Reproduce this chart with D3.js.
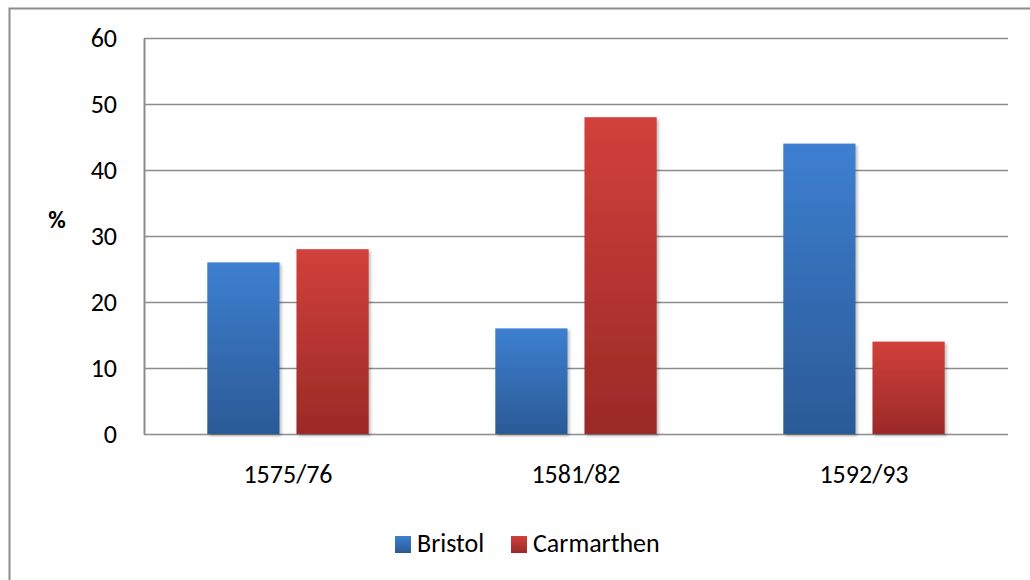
<!DOCTYPE html>
<html>
<head>
<meta charset="utf-8">
<script src="https://cdn.jsdelivr.net/npm/d3@7"></script>
<style>
  body { margin: 0; background: #fff; }
  svg text { font-family: Carlito, "Open Sans", sans-serif; fill: #000; }
</style>
</head>
<body>
<div id="chart"></div>
<script>
// data
const periods = ['1575/76', '1581/82', '1592/93'];
const seriesNames = ['Bristol', 'Carmarthen'];
const bristol = [26, 16, 44];
const carmarthen = [28, 48, 14];
const yTicks = [0, 10, 20, 30, 40, 50, 60];

const width = 1030;
const height = 580;
const margin = { top: 38, right: 22, bottom: 146, left: 144 };

const svg = d3.select('#chart')
  .append('svg')
  .attr('width', width)
  .attr('height', height);

// gradients for the bars
const defs = svg.append('defs');
const grads = [
  { id: 'gBlue', top: '#3d7fd0', bottom: '#2b5a96' },
  { id: 'gRed', top: '#d2403b', bottom: '#9a2a27' }
];
grads.forEach(g => {
  const lg = defs.append('linearGradient')
    .attr('id', g.id)
    .attr('x1', 0).attr('y1', 0).attr('x2', 0).attr('y2', 1);
  lg.append('stop').attr('offset', '0%').attr('stop-color', g.top);
  lg.append('stop').attr('offset', '100%').attr('stop-color', g.bottom);
});
const shadow = defs.append('filter').attr('id', 'shadow')
  .attr('x', '-10%').attr('y', '-5%').attr('width', '130%').attr('height', '115%');
shadow.append('feDropShadow')
  .attr('dx', 2).attr('dy', 2).attr('stdDeviation', 1.5)
  .attr('flood-color', '#000').attr('flood-opacity', 0.25);

// outer frame (runs off the right and bottom edge)
svg.append('rect')
  .attr('x', 9.5).attr('y', 8.5)
  .attr('width', 1030).attr('height', 580)
  .attr('fill', 'none')
  .attr('stroke', '#8c8c8c')
  .attr('stroke-width', 2);

const x0 = d3.scaleBand()
  .domain(periods)
  .range([margin.left, width - margin.right]);

const x1 = d3.scaleBand()
  .domain(seriesNames)
  .range([0, x0.bandwidth()])
  .paddingInner(0.19)
  .paddingOuter(0.71);

const y = d3.scaleLinear()
  .domain([0, 60])
  .range([height - margin.bottom, margin.top]);

// gridlines
svg.append('g')
  .selectAll('line')
  .data(yTicks)
  .enter()
  .append('line')
  .attr('x1', margin.left)
  .attr('x2', width - margin.right)
  .attr('y1', d => Math.round(y(d)) + 0.5)
  .attr('y2', d => Math.round(y(d)) + 0.5)
  .attr('stroke', '#8c8c8c')
  .attr('stroke-width', 1.5);

// y axis
const yAxis = svg.append('g')
  .attr('transform', `translate(${margin.left},0)`)
  .call(d3.axisLeft(y).tickValues(yTicks).tickSize(0).tickPadding(27));
yAxis.select('.domain').attr('stroke', '#8c8c8c').attr('stroke-width', 2);
yAxis.selectAll('text').style('font-size', '26px').attr('dy', '0.33em');

svg.append('text')
  .attr('x', 57)
  .attr('y', 222)
  .attr('text-anchor', 'middle')
  .attr('dominant-baseline', 'middle')
  .style('font-size', '24px')
  .style('font-weight', 'bold')
  .text('%');

// bars
const rows = periods.map((p, i) => ({ period: p, values: [bristol[i], carmarthen[i]] }));
const fills = ['url(#gBlue)', 'url(#gRed)'];

const groups = svg.append('g')
  .selectAll('g')
  .data(rows)
  .enter()
  .append('g')
  .attr('transform', d => `translate(${x0(d.period)},0)`);

groups.selectAll('rect')
  .data(d => d.values.map((v, j) => ({ name: seriesNames[j], value: v, j: j })))
  .enter()
  .append('rect')
  .attr('x', d => x1(d.name))
  .attr('width', x1.bandwidth())
  .attr('y', d => y(d.value))
  .attr('height', d => y(0) - y(d.value))
  .attr('fill', d => fills[d.j])
  .attr('filter', 'url(#shadow)');

// x labels
svg.append('g')
  .selectAll('text')
  .data(periods)
  .enter()
  .append('text')
  .attr('x', d => x0(d) + x0.bandwidth() / 2)
  .attr('y', 483)
  .attr('text-anchor', 'middle')
  .style('font-size', '26px')
  .text(d => d);

// legend
const legend = svg.append('g');
const legendX = [395, 511];
seriesNames.forEach((name, i) => {
  legend.append('rect')
    .attr('x', legendX[i])
    .attr('y', 536)
    .attr('width', 16)
    .attr('height', 17)
    .attr('fill', fills[i]);
  legend.append('text')
    .attr('x', legendX[i] + 22)
    .attr('y', 552)
    .style('font-size', '26px')
    .text(name);
});
</script>
</body>
</html>
